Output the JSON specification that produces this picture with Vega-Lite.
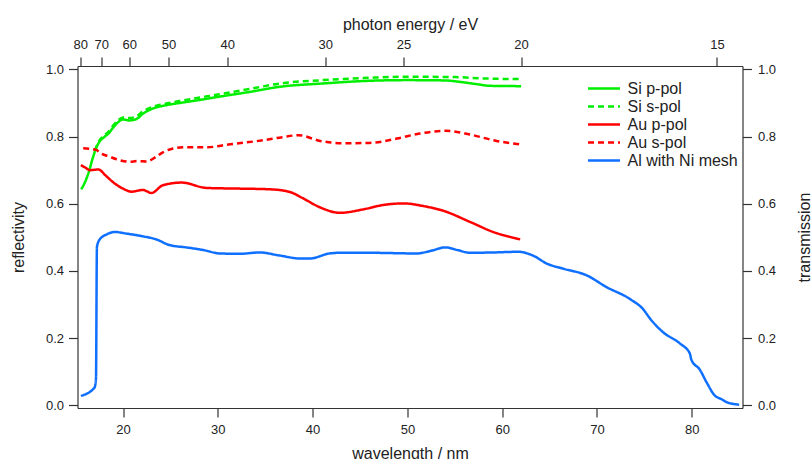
{
  "$schema": "https://vega.github.io/schema/vega-lite/v6.json",
  "width": 665,
  "height": 342,
  "autosize": {"type": "none"},
  "padding": {"left": 77.5, "top": 66, "right": 68.5, "bottom": 51},
  "background": "white",
  "config": {
    "view": {"stroke": null},
    "font": "Liberation Sans",
    "axis": {
      "grid": false,
      "labelFont": "Liberation Sans",
      "labelFontSize": 13,
      "labelColor": "#222",
      "titleFont": "Liberation Sans",
      "titleFontSize": 16,
      "titleFontWeight": "normal",
      "titleColor": "#222",
      "domainColor": "#333",
      "tickColor": "#333",
      "domainWidth": 1.2,
      "tickWidth": 1.2,
      "tickSize": 9,
      "labelPadding": 5
    }
  },
  "data": {
    "values": [
      {"series": "Si p-pol", "wl": 15.6, "v": 0.643},
      {"series": "Si p-pol", "wl": 16.0, "v": 0.665},
      {"series": "Si p-pol", "wl": 16.4, "v": 0.695},
      {"series": "Si p-pol", "wl": 16.8, "v": 0.735},
      {"series": "Si p-pol", "wl": 17.2, "v": 0.768},
      {"series": "Si p-pol", "wl": 17.6, "v": 0.788},
      {"series": "Si p-pol", "wl": 18.0, "v": 0.798},
      {"series": "Si p-pol", "wl": 18.5, "v": 0.81},
      {"series": "Si p-pol", "wl": 19.0, "v": 0.828},
      {"series": "Si p-pol", "wl": 19.5, "v": 0.843},
      {"series": "Si p-pol", "wl": 20.0, "v": 0.851},
      {"series": "Si p-pol", "wl": 20.7, "v": 0.848},
      {"series": "Si p-pol", "wl": 21.4, "v": 0.852},
      {"series": "Si p-pol", "wl": 22.1, "v": 0.868},
      {"series": "Si p-pol", "wl": 23.2, "v": 0.884},
      {"series": "Si p-pol", "wl": 24.5, "v": 0.893},
      {"series": "Si p-pol", "wl": 26.0, "v": 0.9},
      {"series": "Si p-pol", "wl": 28.1, "v": 0.909},
      {"series": "Si p-pol", "wl": 30.0, "v": 0.918},
      {"series": "Si p-pol", "wl": 33.4, "v": 0.933},
      {"series": "Si p-pol", "wl": 36.5, "v": 0.948},
      {"series": "Si p-pol", "wl": 41.1, "v": 0.958},
      {"series": "Si p-pol", "wl": 46.0, "v": 0.966},
      {"series": "Si p-pol", "wl": 50.0, "v": 0.968},
      {"series": "Si p-pol", "wl": 54.0, "v": 0.967},
      {"series": "Si p-pol", "wl": 55.2, "v": 0.964},
      {"series": "Si p-pol", "wl": 57.3, "v": 0.956},
      {"series": "Si p-pol", "wl": 58.7, "v": 0.951},
      {"series": "Si p-pol", "wl": 62.0, "v": 0.95},

      {"series": "Si s-pol", "wl": 17.0, "v": 0.757},
      {"series": "Si s-pol", "wl": 17.6, "v": 0.792},
      {"series": "Si s-pol", "wl": 18.0, "v": 0.803},
      {"series": "Si s-pol", "wl": 18.5, "v": 0.815},
      {"series": "Si s-pol", "wl": 19.0, "v": 0.834},
      {"series": "Si s-pol", "wl": 19.5, "v": 0.849},
      {"series": "Si s-pol", "wl": 20.0, "v": 0.857},
      {"series": "Si s-pol", "wl": 20.7, "v": 0.855},
      {"series": "Si s-pol", "wl": 21.4, "v": 0.86},
      {"series": "Si s-pol", "wl": 22.1, "v": 0.875},
      {"series": "Si s-pol", "wl": 23.2, "v": 0.889},
      {"series": "Si s-pol", "wl": 24.2, "v": 0.896},
      {"series": "Si s-pol", "wl": 26.0, "v": 0.906},
      {"series": "Si s-pol", "wl": 28.1, "v": 0.916},
      {"series": "Si s-pol", "wl": 30.0, "v": 0.925},
      {"series": "Si s-pol", "wl": 33.4, "v": 0.942},
      {"series": "Si s-pol", "wl": 36.6, "v": 0.958},
      {"series": "Si s-pol", "wl": 41.1, "v": 0.968},
      {"series": "Si s-pol", "wl": 46.0, "v": 0.975},
      {"series": "Si s-pol", "wl": 50.0, "v": 0.978},
      {"series": "Si s-pol", "wl": 55.0, "v": 0.977},
      {"series": "Si s-pol", "wl": 58.0, "v": 0.973},
      {"series": "Si s-pol", "wl": 62.0, "v": 0.971},

      {"series": "Au p-pol", "wl": 15.55, "v": 0.715},
      {"series": "Au p-pol", "wl": 16.0, "v": 0.708},
      {"series": "Au p-pol", "wl": 16.5, "v": 0.7},
      {"series": "Au p-pol", "wl": 17.4, "v": 0.702},
      {"series": "Au p-pol", "wl": 18.2, "v": 0.683},
      {"series": "Au p-pol", "wl": 19.0, "v": 0.663},
      {"series": "Au p-pol", "wl": 20.0, "v": 0.645},
      {"series": "Au p-pol", "wl": 20.9, "v": 0.636},
      {"series": "Au p-pol", "wl": 22.1, "v": 0.641},
      {"series": "Au p-pol", "wl": 23.0, "v": 0.632},
      {"series": "Au p-pol", "wl": 24.2, "v": 0.655},
      {"series": "Au p-pol", "wl": 26.2, "v": 0.663},
      {"series": "Au p-pol", "wl": 28.8, "v": 0.647},
      {"series": "Au p-pol", "wl": 32.3, "v": 0.645},
      {"series": "Au p-pol", "wl": 35.5, "v": 0.643},
      {"series": "Au p-pol", "wl": 37.6, "v": 0.635},
      {"series": "Au p-pol", "wl": 39.0, "v": 0.616},
      {"series": "Au p-pol", "wl": 40.8, "v": 0.589},
      {"series": "Au p-pol", "wl": 42.9, "v": 0.573},
      {"series": "Au p-pol", "wl": 45.3, "v": 0.583},
      {"series": "Au p-pol", "wl": 47.4, "v": 0.596},
      {"series": "Au p-pol", "wl": 49.6, "v": 0.601},
      {"series": "Au p-pol", "wl": 51.7, "v": 0.593},
      {"series": "Au p-pol", "wl": 53.8, "v": 0.579},
      {"series": "Au p-pol", "wl": 56.6, "v": 0.546},
      {"series": "Au p-pol", "wl": 59.05, "v": 0.516},
      {"series": "Au p-pol", "wl": 61.9, "v": 0.494},

      {"series": "Au s-pol", "wl": 15.8, "v": 0.765},
      {"series": "Au s-pol", "wl": 17.2, "v": 0.76},
      {"series": "Au s-pol", "wl": 17.55, "v": 0.752},
      {"series": "Au s-pol", "wl": 18.6, "v": 0.74},
      {"series": "Au s-pol", "wl": 19.6, "v": 0.73},
      {"series": "Au s-pol", "wl": 20.7, "v": 0.725},
      {"series": "Au s-pol", "wl": 21.5, "v": 0.727},
      {"series": "Au s-pol", "wl": 22.5, "v": 0.726},
      {"series": "Au s-pol", "wl": 23.5, "v": 0.74},
      {"series": "Au s-pol", "wl": 24.2, "v": 0.753},
      {"series": "Au s-pol", "wl": 26.3, "v": 0.768},
      {"series": "Au s-pol", "wl": 28.8, "v": 0.768},
      {"series": "Au s-pol", "wl": 31.3, "v": 0.777},
      {"series": "Au s-pol", "wl": 34.8, "v": 0.789},
      {"series": "Au s-pol", "wl": 36.8, "v": 0.798},
      {"series": "Au s-pol", "wl": 38.5, "v": 0.804},
      {"series": "Au s-pol", "wl": 40.8, "v": 0.787},
      {"series": "Au s-pol", "wl": 43.2, "v": 0.78},
      {"series": "Au s-pol", "wl": 46.0, "v": 0.781},
      {"series": "Au s-pol", "wl": 48.9, "v": 0.794},
      {"series": "Au s-pol", "wl": 51.3, "v": 0.809},
      {"series": "Au s-pol", "wl": 54.0, "v": 0.817},
      {"series": "Au s-pol", "wl": 56.6, "v": 0.806},
      {"series": "Au s-pol", "wl": 59.4, "v": 0.787},
      {"series": "Au s-pol", "wl": 61.9, "v": 0.777},

      {"series": "Al with Ni mesh", "wl": 15.55, "v": 0.028},
      {"series": "Al with Ni mesh", "wl": 17.0, "v": 0.053},
      {"series": "Al with Ni mesh", "wl": 17.15, "v": 0.08},
      {"series": "Al with Ni mesh", "wl": 17.25, "v": 0.472},
      {"series": "Al with Ni mesh", "wl": 17.55, "v": 0.494},
      {"series": "Al with Ni mesh", "wl": 18.3, "v": 0.509},
      {"series": "Al with Ni mesh", "wl": 19.1, "v": 0.516},
      {"series": "Al with Ni mesh", "wl": 20.4, "v": 0.511},
      {"series": "Al with Ni mesh", "wl": 22.1, "v": 0.503},
      {"series": "Al with Ni mesh", "wl": 23.5, "v": 0.494},
      {"series": "Al with Ni mesh", "wl": 24.9, "v": 0.477},
      {"series": "Al with Ni mesh", "wl": 26.7, "v": 0.47},
      {"series": "Al with Ni mesh", "wl": 28.5, "v": 0.462},
      {"series": "Al with Ni mesh", "wl": 30.2, "v": 0.452},
      {"series": "Al with Ni mesh", "wl": 32.3, "v": 0.451},
      {"series": "Al with Ni mesh", "wl": 34.4, "v": 0.455},
      {"series": "Al with Ni mesh", "wl": 36.5, "v": 0.446},
      {"series": "Al with Ni mesh", "wl": 38.7, "v": 0.437},
      {"series": "Al with Ni mesh", "wl": 39.7, "v": 0.437},
      {"series": "Al with Ni mesh", "wl": 41.8, "v": 0.452},
      {"series": "Al with Ni mesh", "wl": 42.9, "v": 0.454},
      {"series": "Al with Ni mesh", "wl": 46.0, "v": 0.454},
      {"series": "Al with Ni mesh", "wl": 51.0, "v": 0.452},
      {"series": "Al with Ni mesh", "wl": 52.5, "v": 0.46},
      {"series": "Al with Ni mesh", "wl": 54.0, "v": 0.47},
      {"series": "Al with Ni mesh", "wl": 55.3, "v": 0.462},
      {"series": "Al with Ni mesh", "wl": 56.6, "v": 0.454},
      {"series": "Al with Ni mesh", "wl": 59.05, "v": 0.455},
      {"series": "Al with Ni mesh", "wl": 61.7, "v": 0.457},
      {"series": "Al with Ni mesh", "wl": 63.3, "v": 0.445},
      {"series": "Al with Ni mesh", "wl": 64.7, "v": 0.422},
      {"series": "Al with Ni mesh", "wl": 66.4, "v": 0.407},
      {"series": "Al with Ni mesh", "wl": 68.9, "v": 0.387},
      {"series": "Al with Ni mesh", "wl": 71.0, "v": 0.352},
      {"series": "Al with Ni mesh", "wl": 73.5, "v": 0.316},
      {"series": "Al with Ni mesh", "wl": 74.9, "v": 0.285},
      {"series": "Al with Ni mesh", "wl": 75.6, "v": 0.258},
      {"series": "Al with Ni mesh", "wl": 77.0, "v": 0.217},
      {"series": "Al with Ni mesh", "wl": 78.75, "v": 0.184},
      {"series": "Al with Ni mesh", "wl": 79.8, "v": 0.154},
      {"series": "Al with Ni mesh", "wl": 79.95, "v": 0.136},
      {"series": "Al with Ni mesh", "wl": 80.85, "v": 0.106},
      {"series": "Al with Ni mesh", "wl": 81.55, "v": 0.069},
      {"series": "Al with Ni mesh", "wl": 82.4, "v": 0.03},
      {"series": "Al with Ni mesh", "wl": 83.15, "v": 0.018},
      {"series": "Al with Ni mesh", "wl": 83.8, "v": 0.008},
      {"series": "Al with Ni mesh", "wl": 85.0, "v": 0.002}
    ]
  },
  "layer": [
    {
      "transform": [{"filter": "datum.series !== 'Al with Ni mesh'"}],
      "mark": {"type": "line", "strokeWidth": 2.5, "interpolate": "monotone"},
      "encoding": {
        "x": {
          "field": "wl", "type": "quantitative",
          "scale": {"domain": [15.2, 85.35], "nice": false, "zero": false},
          "axis": {"orient": "bottom", "values": [20, 30, 40, 50, 60, 70, 80], "title": "wavelength / nm", "titlePadding": 9, "labelPadding": 6}
        },
        "y": {
          "field": "v", "type": "quantitative",
          "scale": {"domain": [-0.008, 1.01], "nice": false, "zero": false},
          "axis": {"orient": "left", "values": [0, 0.2, 0.4, 0.6, 0.8, 1.0], "format": ".1f", "title": "reflectivity", "titlePadding": 19}
        },
        "color": {
          "field": "series", "type": "nominal",
          "scale": {
            "domain": ["Si p-pol", "Si s-pol", "Au p-pol", "Au s-pol", "Al with Ni mesh"],
            "range": ["#00ee00", "#00ee00", "#ff0000", "#ff0000", "#0f6fff"]
          },
          "legend": {
            "title": null, "orient": "none", "legendX": 517, "legendY": 13,
            "padding": 0, "rowPadding": 0,
            "symbolType": "M-2,0H2", "symbolSize": 256, "symbolStrokeWidth": 2.5,
            "labelFont": "Liberation Sans", "labelFontSize": 16, "labelColor": "#222", "labelOffset": 14
          }
        },
        "strokeDash": {
          "field": "series", "type": "nominal",
          "scale": {
            "domain": ["Si p-pol", "Si s-pol", "Au p-pol", "Au s-pol", "Al with Ni mesh"],
            "range": [[1, 0], [6, 4], [1, 0], [6, 4], [1, 0]]
          },
          "legend": {
            "title": null, "orient": "none", "legendX": 517, "legendY": 13,
            "padding": 0, "rowPadding": 0,
            "symbolType": "M-2,0H2", "symbolSize": 256, "symbolStrokeWidth": 2.5,
            "labelFont": "Liberation Sans", "labelFontSize": 16, "labelColor": "#222", "labelOffset": 14
          }
        }
      }
    },
    {
      "transform": [{"filter": "datum.series === 'Al with Ni mesh'"}],
      "mark": {"type": "line", "strokeWidth": 2.5, "interpolate": "monotone"},
      "encoding": {
        "x": {
          "field": "wl", "type": "quantitative",
          "scale": {"domain": [15.2, 85.35], "nice": false, "zero": false},
          "axis": {
            "orient": "top",
            "values": [15.498, 17.712, 20.664, 24.797, 30.996, 41.328, 49.594, 61.992, 82.656],
            "labelExpr": "round(1239.84 / datum.value)",
            "title": "photon energy / eV", "titlePadding": 6, "labelPadding": 6
          }
        },
        "y": {
          "field": "v", "type": "quantitative",
          "scale": {"domain": [-0.008, 1.01], "nice": false, "zero": false},
          "axis": {"orient": "right", "values": [0, 0.2, 0.4, 0.6, 0.8, 1.0], "format": ".1f", "title": "transmission", "titleAngle": -90, "titlePadding": 37, "labelPadding": 6}
        },
        "color": {"field": "series", "type": "nominal"},
        "strokeDash": {"field": "series", "type": "nominal"}
      }
    }
  ],
  "resolve": {"scale": {"x": "independent", "y": "independent"}}
}
